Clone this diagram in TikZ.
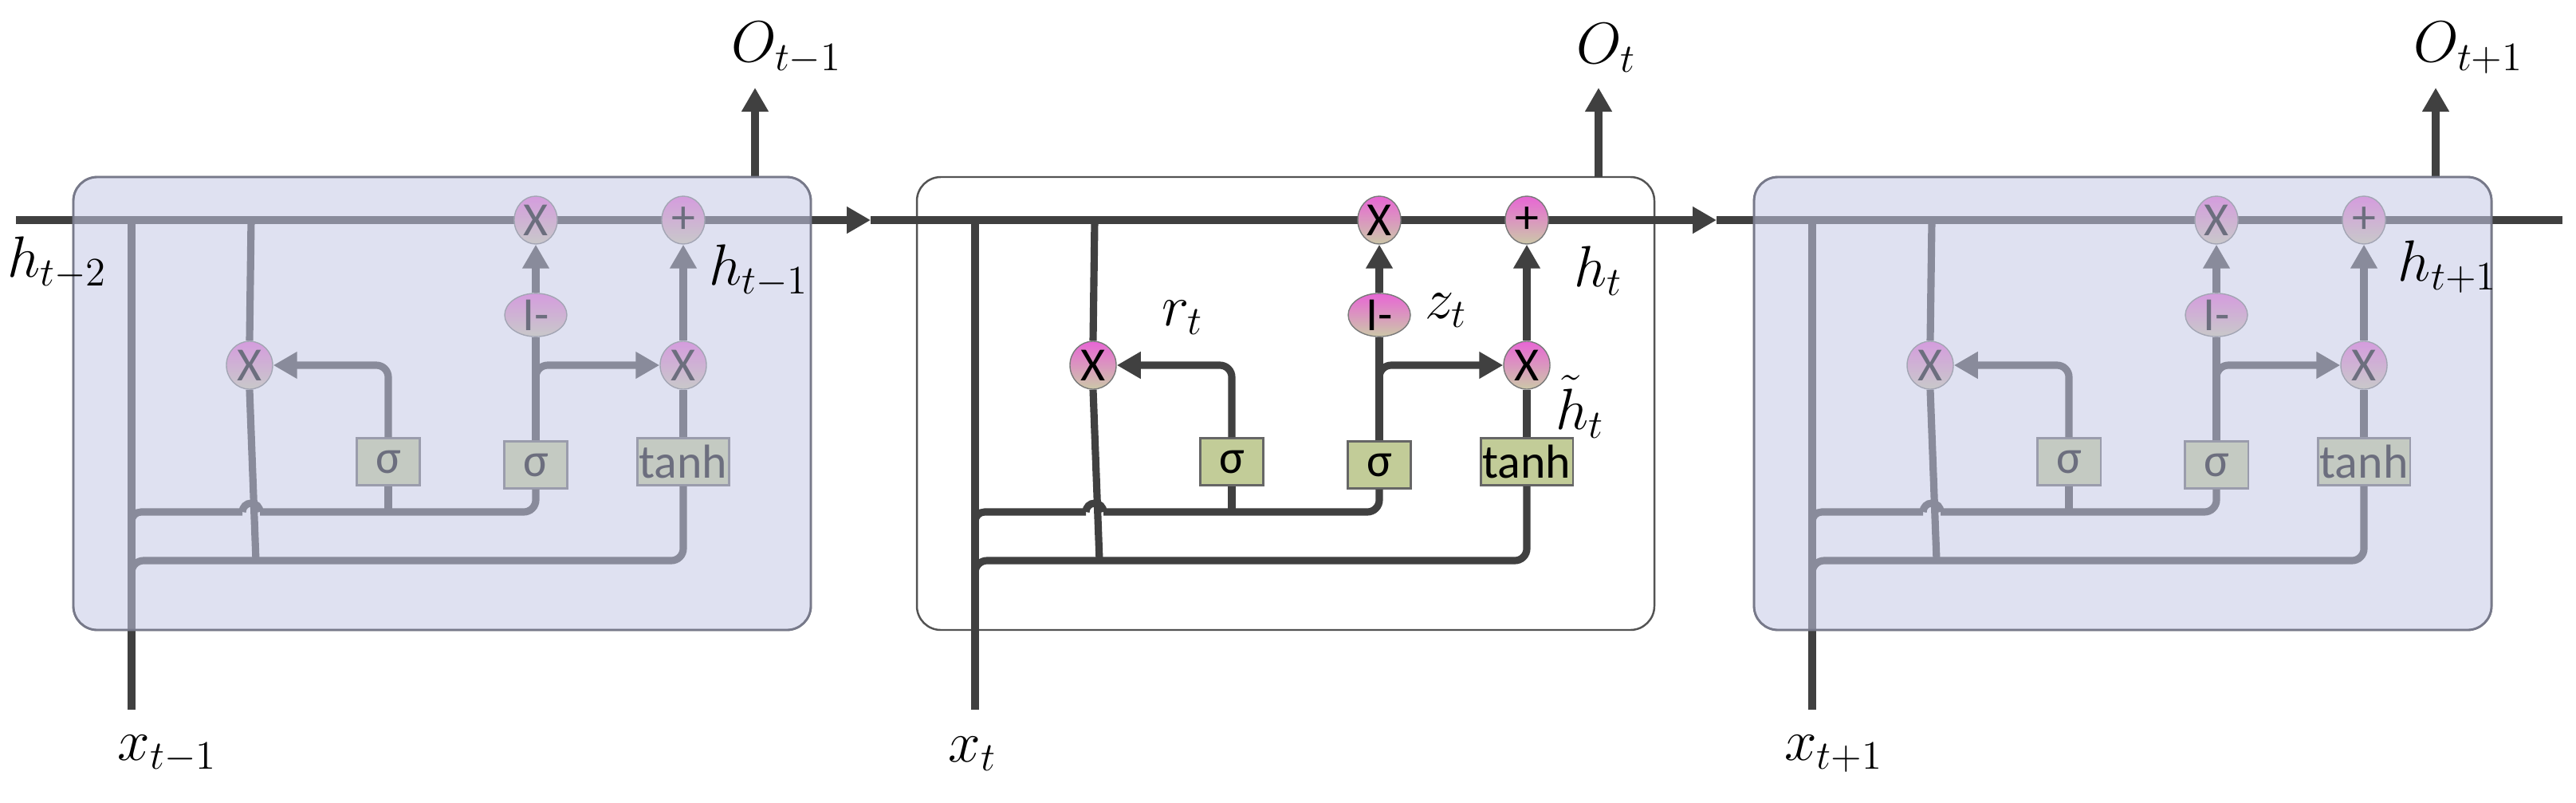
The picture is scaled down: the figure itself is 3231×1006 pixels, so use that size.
\documentclass[tikz,border=0pt]{standalone}
\usepackage{fontspec}
\newfontfamily\carl{Carlito}
\usetikzlibrary{shapes.geometric,arrows.meta}
\definecolor{ln}{HTML}{404040}
\definecolor{gbox}{HTML}{C2CC98}
\definecolor{mag}{HTML}{E865D5}
\definecolor{mbot}{HTML}{CCC8A8}
\definecolor{ov}{HTML}{C6CAE6}
\tikzset{
 w/.style={draw=ln,line width=2.6pt},
 tip/.style={-{Triangle[length=0.3cm,width=0.32cm]}},
 op/.style={ellipse,draw=ln!70,line width=0.4pt,top color=mag,bottom color=mbot,inner sep=0pt,font=\carl\fontsize{17}{17}\selectfont},
 gate/.style={rectangle,draw=ln!80,line width=0.6pt,fill=gbox,inner sep=0pt,font=\carl\fontsize{17}{17}\selectfont},
 lab/.style={font=\fontsize{22}{26}\selectfont},
 cellbox/.style={draw=ln!90,line width=0.7pt,rounded corners=0.3cm},
}
\newcommand\grubox[1]{%
 \draw[cellbox,fill=white,shift={(#1,0)}] (1150,222) rectangle (2075,790);}
\newcommand\gruov[1]{%
 \fill[ov,opacity=0.55,rounded corners=0.3cm,shift={(#1,0)}] (1150,222) rectangle (2075,790);
 \draw[ov!60!black,line width=0.8pt,rounded corners=0.3cm,shift={(#1,0)}] (1150,222) rectangle (2075,790);}
\newcommand\grucell[2]{%
\begin{scope}[shift={(#1,0)}]
 \coordinate (#2x0) at (1223,890);
 \coordinate (#2x1) at (1223,276);
 \coordinate (#2o0) at (2005,222);
 \coordinate (#2o1) at (2005,110);
 \node[op,minimum width=0.54cm,minimum height=0.6cm] (#2mz) at (1730,276) {X};
 \node[op,minimum width=0.54cm,minimum height=0.6cm] (#2pl) at (1915,276) {+};
 \node[op,minimum width=0.78cm,minimum height=0.51cm] (#2om) at (1730,395) {I-};
 \node[op,minimum width=0.58cm,minimum height=0.6cm] (#2mr) at (1371,458) {X};
 \node[op,minimum width=0.58cm,minimum height=0.6cm] (#2mh) at (1915,458) {X};
 \node[gate,minimum width=0.79cm,minimum height=0.59cm] (#2s1) at (1545,579) {σ};
 \node[gate,minimum width=0.79cm,minimum height=0.59cm] (#2s2) at (1730,583) {σ};
 \node[gate,minimum width=1.15cm,minimum height=0.59cm] (#2th) at (1915,579) {tanh};
 \draw[w] (#2x0) -- (#2x1);
 \draw[w] (1373,276) -- (#2mr.north);
 \draw[w] (#2mr.south) -- (1379,703);
 \draw[w,rounded corners=0.15cm] (1223,740) |- (1915,703) -- (#2th.south);
 \draw[w,rounded corners=0.12cm] (1223,670) |- (1362,642);
 \draw[w] (1362,642) arc[start angle=180,end angle=0,radius=0.11cm];
 \draw[w,rounded corners=0.15cm] (1384,642) -- (1730,642) -- (#2s2.south);
 \draw[w] (#2s1.south) -- (1545,642);
 \draw[w,tip,rounded corners=0.15cm] (#2s1.north) |- (#2mr.east);
 \draw[w] (#2s2.north) -- (#2om.south);
 \draw[w,tip,rounded corners=0.15cm] (1730,490) |- (#2mh.west);
 \draw[w,tip] (#2om.north) -- (#2mz.south);
 \draw[w] (#2th.north) -- (#2mh.south);
 \draw[w,tip] (#2mh.north) -- (#2pl.south);
 \draw[w,tip] (#2o0) -- (#2o1);
\end{scope}}
\begin{document}
\begin{tikzpicture}[x=0.01cm,y=-0.01cm]
\useasboundingbox (0,0) rectangle (3231,1006);
\grubox{-1058}\grubox{0}\grubox{1050}
\coordinate (hs) at (20,276);
\coordinate (a1) at (1092,276);
\coordinate (a2) at (2153,276);
\coordinate (he) at (3214,276);
\draw[w,tip] (hs) -- (a1);
\draw[w,tip] (a1) -- (a2);
\draw[w] (a2) -- (he);
\grucell{-1058}{L}
\grucell{0}{M}
\grucell{1050}{R}
\gruov{-1058}
\gruov{1050}
% labels
\node[lab] (lh2) at (72,330) {$h_{t-2}$};
\node[lab] (lh1) at (952,340) {$h_{t-1}$};
\node[lab] (lx1) at (210,945) {$x_{t-1}$};
\node[lab,anchor=west] (lo1) at (905,60) {$O_{t-1}$};
\node[lab] (rt) at (1483,398) {$r_{t}$};
\node[lab] (zt) at (1814,389) {$z_{t}$};
\node[lab] (ht) at (2005,340) {$h_{t}$};
\node[lab] (htt) at (1982,510) {$\tilde{h}_{t}$};
\node[lab] (xt) at (1220,945) {$x_{t}$};
\node[lab,anchor=west] (ot) at (1965,60) {$O_{t}$};
\node[lab] (rh) at (3070,335) {$h_{t+1}$};
\node[lab] (rx) at (2300,945) {$x_{t+1}$};
\node[lab,anchor=west] (ro) at (3015,60) {$O_{t+1}$};
\end{tikzpicture}
\end{document}
